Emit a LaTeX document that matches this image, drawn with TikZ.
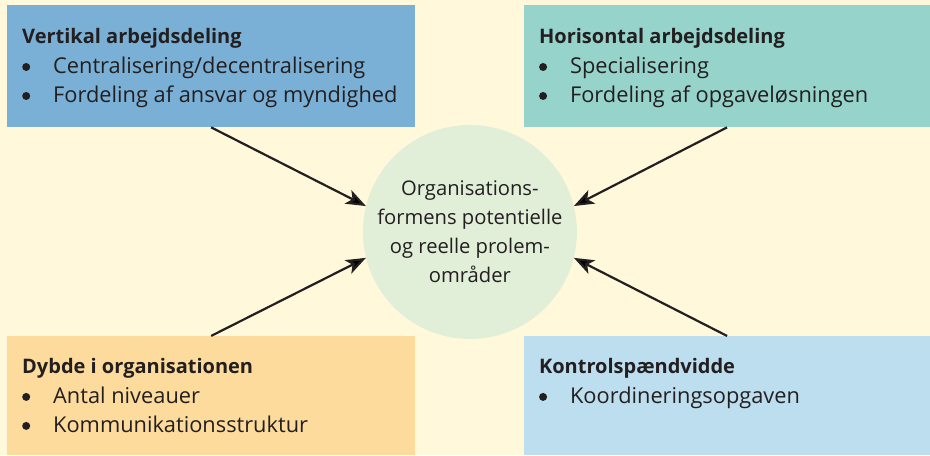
\documentclass[tikz,border=0pt]{standalone}
\usepackage{fontspec}
\setmainfont{Open Sans}
\usetikzlibrary{arrows.meta}

\definecolor{bgcream}{HTML}{FFF8DB}
\definecolor{vertblue}{HTML}{7AB0D6}
\definecolor{horiteal}{HTML}{95D3CB}
\definecolor{dybdeorange}{HTML}{FDDB9D}
\definecolor{kontrolblue}{HTML}{BCDEEE}
\definecolor{coregreen}{HTML}{E1EED8}
\definecolor{inkdark}{HTML}{231F20}

\newcommand{\bul}{\makebox[31pt][l]{\tikz[baseline={(0pt,-7pt)}]\fill (4pt,0pt) circle (4pt);}}

\begin{document}
\begin{tikzpicture}[x=1pt,y=-1pt,>={Stealth[length=20pt,width=15pt,inset=5pt]},
 font=\fontsize{21.8}{29}\selectfont,text=inkdark,
 area/.style={inner sep=0pt,anchor=north west},
 head/.style={anchor=base west,inner sep=0pt,font=\fontsize{20}{29}\selectfont\bfseries},
 item/.style={anchor=base west,inner sep=0pt},
 link/.style={->,draw=inkdark,line width=2.2pt}]
% background
\fill[bgcream] (0,0) rectangle (930,455);
% the four boxes
\node[area,fill=vertblue,minimum width=408pt,minimum height=122pt] (vert) at (7,5) {};
\node[area,fill=horiteal,minimum width=406pt,minimum height=122pt] (hori) at (524,5) {};
\node[area,fill=dybdeorange,minimum width=408pt,minimum height=119pt] (dybde) at (7,336) {};
\node[area,fill=kontrolblue,minimum width=406pt,minimum height=119pt] (kontrol) at (524,336) {};
% box texts
\node[head] (vert0) at (22,44) {Vertikal arbejdsdeling};
\node[item] (vert1) at (22,74) {\bul Centralisering/decentralisering};
\node[item] (vert2) at (22,103) {\bul Fordeling af ansvar og myndighed};
\node[head] (hori0) at (539,44) {Horisontal arbejdsdeling};
\node[item] (hori1) at (539,74) {\bul Specialisering};
\node[item] (hori2) at (539,103) {\bul Fordeling af opgaveløsningen};
\node[head] (dybde0) at (22,374) {Dybde i organisationen};
\node[item] (dybde1) at (22,404) {\bul Antal niveauer};
\node[item] (dybde2) at (22,433) {\bul Kommunikationsstruktur};
\node[head] (kontrol0) at (539,374) {Kontrolspændvidde};
\node[item] (kontrol1) at (539,404) {\bul Koordineringsopgaven};
% centre
\node[circle,fill=coregreen,minimum size=214pt,inner sep=0pt,align=center,
 font=\fontsize{20.2}{29}\selectfont] (core) at (470,232)
 {Organisations-\\formens potentielle\\og reelle prolem-\\områder};
% arrows
\draw[link] (vert.south) -- (core.166);
\draw[link] (hori.south) -- (core.14);
\draw[link] (dybde.north) -- (core.194);
\draw[link] (kontrol.north) -- (core.-14);
\end{tikzpicture}
\end{document}
